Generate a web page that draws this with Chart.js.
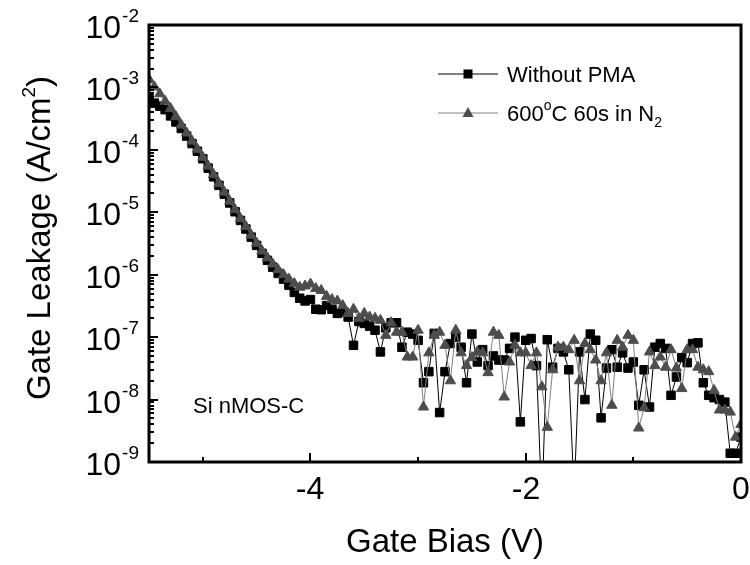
<!DOCTYPE html>
<html>
<head>
<meta charset="utf-8">
<script src="https://cdn.jsdelivr.net/npm/chart.js@4.4.0/dist/chart.umd.min.js"></script>
<style>
  html, body { margin: 0; padding: 0; background: #fff; }
</style>
</head>
<body>
<canvas id="myChart" width="750" height="565"></canvas>
<script>
// Gate bias (V)
const biasV = [
  -5.50, -5.45, -5.40, -5.35, -5.30, -5.25, -5.20, -5.15, -5.10, -5.05,
  -5.00, -4.95, -4.90, -4.85, -4.80, -4.75, -4.70, -4.65, -4.60, -4.55,
  -4.50, -4.45, -4.40, -4.35, -4.30, -4.25, -4.20, -4.15, -4.10, -4.05,
  -4.00, -3.95, -3.90, -3.85, -3.80, -3.75, -3.70, -3.65, -3.60, -3.55,
  -3.50, -3.45, -3.40, -3.35, -3.30, -3.25, -3.20, -3.15, -3.10, -3.05,
  -3.00, -2.95, -2.90, -2.85, -2.80, -2.75, -2.70, -2.65, -2.60, -2.55,
  -2.50, -2.45, -2.40, -2.35, -2.30, -2.25, -2.20, -2.15, -2.10, -2.05,
  -2.00, -1.95, -1.90, -1.85, -1.80, -1.75, -1.70, -1.65, -1.60, -1.55,
  -1.50, -1.45, -1.40, -1.35, -1.30, -1.25, -1.20, -1.15, -1.10, -1.05,
  -1.00, -0.95, -0.90, -0.85, -0.80, -0.75, -0.70, -0.65, -0.60, -0.55,
  -0.50, -0.45, -0.40, -0.35, -0.30, -0.25, -0.20, -0.15, -0.10, -0.05,
  0.00
];

// Gate leakage (A/cm2), without PMA
const withoutPMA = [
  7.1e-4, 5.6e-4, 5.0e-4, 4.4e-4, 3.5e-4, 2.8e-4, 2.2e-4, 1.66e-4, 1.26e-4, 9.5e-5,
  7.2e-5, 5.1e-5, 3.7e-5, 2.7e-5, 1.95e-5, 1.41e-5, 1.02e-5, 7.4e-6, 5.4e-6, 4.0e-6,
  2.95e-6, 2.2e-6, 1.7e-6, 1.32e-6, 1.05e-6, 8.5e-7, 6.8e-7, 5.2e-7, 4.2e-7, 3.8e-7,
  4.0e-7, 2.8e-7, 2.75e-7, 3.2e-7, 2.8e-7, 2.4e-7, 2.5e-7, 2.1e-7, 7.4e-8, 1.78e-7,
  1.66e-7, 1.5e-7, 1.29e-7, 5.8e-8, 1.41e-7, 1.7e-7, 1.7e-7, 6.9e-8, 1.2e-7, 1.12e-7,
  8.9e-8, 1.86e-8, 2.8e-8, 1.15e-7, 6.2e-9, 2.8e-8, 7.9e-8, 1.0e-7, 6.9e-8, 1.86e-8,
  1.12e-7, 4.0e-8, 6.3e-8, 3.5e-8, 5.0e-8, 4.3e-8, 4.3e-8, 6.6e-8, 1.0e-7, 4.4e-9,
  8.9e-8, 9.5e-8, 3.5e-8, 2e-10, 9.1e-8, 3.3e-8, 6.6e-8, 5.8e-8, 3.0e-8, 3e-10,
  5.8e-8, 1.0e-8, 1.12e-7, 8.9e-8, 5.1e-9, 3.2e-8, 6.3e-8, 3.3e-8, 5.6e-8, 3.2e-8,
  4.0e-8, 8.1e-9, 3.0e-8, 7.6e-9, 6.9e-8, 7.9e-8, 6.6e-8, 1.17e-8, 2.3e-8, 4.7e-8,
  3.9e-8, 7.9e-8, 8.1e-8, 1.86e-8, 1.17e-8, 1.07e-8, 1.0e-8, 9.1e-9, 1.38e-9, 1.38e-9,
  2.5e-9
];

// Gate leakage (A/cm2), 600C 60s in N2
const annealed = [
  1.35e-3, 1.02e-3, 7.9e-4, 6.0e-4, 4.6e-4, 3.4e-4, 2.5e-4, 1.86e-4, 1.38e-4, 1.02e-4,
  7.6e-5, 5.5e-5, 4.0e-5, 2.9e-5, 2.1e-5, 1.5e-5, 1.1e-5, 7.9e-6, 5.9e-6, 4.3e-6,
  3.2e-6, 2.4e-6, 1.86e-6, 1.48e-6, 1.2e-6, 1.0e-6, 8.5e-7, 7.2e-7, 6.3e-7, 6.6e-7,
  7.1e-7, 6.0e-7, 5.6e-7, 4.5e-7, 4.0e-7, 3.8e-7, 3.2e-7, 2.4e-7, 2.8e-7, 2.0e-7,
  2.4e-7, 2.1e-7, 2.0e-7, 1.86e-7, 1.07e-7, 1.7e-7, 1.2e-7, 1.2e-7, 4.8e-8, 4.8e-8,
  1.29e-7, 7.6e-9, 5.6e-8, 1.07e-7, 1.2e-7, 7.4e-8, 2.0e-8, 1.29e-7, 5.6e-8, 3.5e-8,
  4.7e-8, 5.8e-8, 5.6e-8, 2.7e-8, 1.2e-7, 1.07e-7, 1.1e-8, 4.0e-8, 7.4e-8, 5.6e-8,
  5.6e-8, 3.5e-8, 5.6e-8, 1.6e-8, 3.6e-9, 3.0e-8, 6.9e-8, 6.9e-8, 6.3e-8, 8.9e-8,
  2.0e-8, 7.9e-8, 6.3e-8, 4.3e-8, 2.0e-8, 5.6e-8, 8.1e-9, 8.9e-8, 6.9e-8, 1.07e-7,
  8.9e-8, 3.5e-9, 7.4e-9, 5.8e-8, 3.5e-8, 4.8e-8, 3.3e-8, 6.3e-8, 3.2e-8, 1.5e-8,
  6.3e-8, 6.3e-8, 3.3e-8, 3.0e-8, 2.8e-8, 1.4e-8, 6.8e-9, 6.8e-9, 6.3e-9, 2.5e-9,
  4.0e-9
];

const xMajorTicks = [-4, -2, 0];
const xMinorTicks = [-5, -3, -1];
const yExponents = [-2, -3, -4, -5, -6, -7, -8, -9];

const FONT = 'Arial, "Liberation Sans", sans-serif';

function toPoints(ys) {
  return biasV.map(function (v, i) { return { x: v, y: ys[i] }; });
}

// draw text made of pieces (normal / superscript / subscript)
function drawParts(ctx, parts, x, y, align) {
  var total = 0;
  parts.forEach(function (p) {
    ctx.font = p.size + 'px ' + FONT;
    p.w = ctx.measureText(p.t).width;
    total += p.w + (p.gap || 0);
  });
  var cx = align === 'center' ? x - total / 2 : (align === 'right' ? x - total : x);
  ctx.textAlign = 'left';
  ctx.textBaseline = 'alphabetic';
  parts.forEach(function (p) {
    ctx.font = p.size + 'px ' + FONT;
    cx += (p.gap || 0);
    ctx.fillText(p.t, cx, y + (p.dy || 0));
    cx += p.w;
  });
}

const axisDecor = {
  id: 'axisDecor',
  afterDraw(chart) {
    const ctx = chart.ctx;
    const a = chart.chartArea;
    const x = chart.scales.x;
    const y = chart.scales.y;
    ctx.save();
    ctx.fillStyle = '#000';
    ctx.strokeStyle = '#000';

    // frame
    ctx.lineWidth = 3;
    ctx.strokeRect(a.left, a.top, a.right - a.left, a.bottom - a.top);

    // y ticks (inward) and labels
    ctx.lineWidth = 2;
    yExponents.forEach(function (e) {
      for (var m = 1; m <= 9; m++) {
        var v = m * Math.pow(10, e);
        if (v > 1.0001e-2) continue;
        var py = Math.round(y.getPixelForValue(v));
        var len = m === 1 ? 9 : 5;
        ctx.beginPath();
        ctx.moveTo(a.left, py);
        ctx.lineTo(a.left + len, py);
        ctx.stroke();
      }
      var ly = y.getPixelForValue(Math.pow(10, e));
      drawParts(ctx, [
        { t: '10', size: 32 },
        { t: String(e), size: 19, dy: -16, gap: 1 }
      ], a.left - 10, ly + 13, 'right');
    });

    // x ticks (inward) and labels
    xMinorTicks.forEach(function (v) {
      var px = Math.round(x.getPixelForValue(v));
      ctx.beginPath();
      ctx.moveTo(px, a.bottom);
      ctx.lineTo(px, a.bottom - 5);
      ctx.stroke();
    });
    xMajorTicks.forEach(function (v) {
      var px = Math.round(x.getPixelForValue(v));
      ctx.beginPath();
      ctx.moveTo(px, a.bottom);
      ctx.lineTo(px, a.bottom - 9);
      ctx.stroke();
      ctx.font = '32px ' + FONT;
      ctx.textAlign = 'center';
      ctx.textBaseline = 'alphabetic';
      ctx.fillText(String(v), px, a.bottom + 37);
    });

    // axis titles
    ctx.font = '33px ' + FONT;
    ctx.textAlign = 'center';
    ctx.textBaseline = 'alphabetic';
    ctx.fillText('Gate Bias (V)', (a.left + a.right) / 2, 552);

    ctx.save();
    ctx.translate(50, 238);
    ctx.rotate(-Math.PI / 2);
    drawParts(ctx, [
      { t: 'Gate Leakage (A/cm', size: 33 },
      { t: '2', size: 19, dy: -15 },
      { t: ')', size: 33 }
    ], 0, 0, 'center');
    ctx.restore();

    // annotation
    ctx.font = '22px ' + FONT;
    ctx.textAlign = 'left';
    ctx.fillText('Si nMOS-C', 193, 413);

    // legend
    var lx0 = 438, lx1 = 498, lm = 468, tx = 507;
    var r1 = 74, r2 = 113;
    ctx.lineWidth = 1;
    ctx.strokeStyle = '#000';
    ctx.beginPath(); ctx.moveTo(lx0, r1); ctx.lineTo(lx1, r1); ctx.stroke();
    ctx.fillStyle = '#000';
    ctx.fillRect(lm - 4.5, r1 - 4.5, 9, 9);
    ctx.strokeStyle = '#808080';
    ctx.beginPath(); ctx.moveTo(lx0, r2); ctx.lineTo(lx1, r2); ctx.stroke();
    ctx.fillStyle = '#4d4d4d';
    ctx.beginPath();
    ctx.moveTo(lm, r2 - 6); ctx.lineTo(lm + 5.5, r2 + 4); ctx.lineTo(lm - 5.5, r2 + 4);
    ctx.closePath(); ctx.fill();

    ctx.fillStyle = '#000';
    drawParts(ctx, [{ t: 'Without PMA', size: 22 }], tx, r1 + 8, 'left');
    drawParts(ctx, [
      { t: '600', size: 22 },
      { t: 'o', size: 14, dy: -11 },
      { t: 'C 60s in N', size: 22 },
      { t: '2', size: 14, dy: 6 }
    ], tx, r2 + 8, 'left');

    ctx.restore();
  }
};

new Chart(document.getElementById('myChart'), {
  type: 'line',
  data: {
    datasets: [
      {
        label: '600\u00b0C 60s in N2',
        data: toPoints(annealed),
        borderColor: '#808080',
        borderWidth: 1,
        pointStyle: 'triangle',
        pointRadius: 6,
        pointBackgroundColor: '#4d4d4d',
        pointBorderColor: '#4d4d4d',
        pointBorderWidth: 1,
        tension: 0
      },
      {
        label: 'Without PMA',
        data: toPoints(withoutPMA),
        borderColor: '#000',
        borderWidth: 1,
        pointStyle: 'rect',
        pointRadius: 6,
        pointBackgroundColor: '#000',
        pointBorderColor: '#000',
        pointBorderWidth: 1,
        tension: 0
      }
    ]
  },
  options: {
    responsive: false,
    animation: false,
    layout: { padding: { left: 149, right: 9, top: 25, bottom: 103 } },
    plugins: { legend: { display: false }, tooltip: { enabled: false } },
    scales: {
      x: { type: 'linear', min: -5.5, max: 0, display: false },
      y: { type: 'logarithmic', min: 1e-9, max: 1e-2, display: false }
    }
  },
  plugins: [axisDecor]
});
</script>
</body>
</html>
